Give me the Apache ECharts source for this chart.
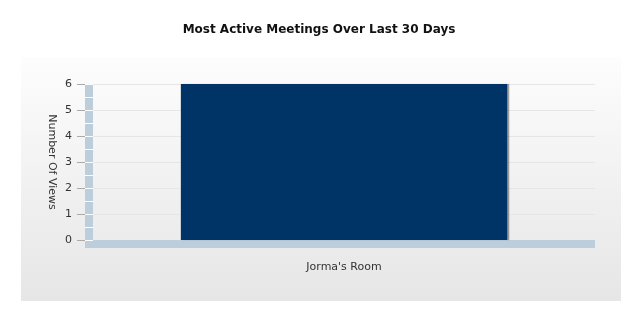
<!DOCTYPE html>
<html><head><meta charset="utf-8">
<script src="https://cdn.jsdelivr.net/npm/echarts@6/dist/echarts.min.js"></script>
<style>html,body{margin:0;padding:0;background:#fff}#c{width:638px;height:312px}</style>
</head><body><div id="c"></div>
<script>
const categories = ["Jorma's Room"];
const views = [6];
const yTicks = [0, 1, 2, 3, 4, 5, 6];

const chart = echarts.init(document.getElementById('c'), null, {renderer: 'canvas'});
const yMin = yTicks[0], yMax = yTicks[yTicks.length - 1];
chart.setOption({
  animation: false,
  backgroundColor: '#ffffff',
  title: {
    text: 'Most Active Meetings Over Last 30 Days',
    left: 'center', top: 19,
    textStyle: {fontFamily: 'DejaVu Sans', fontSize: 12, fontWeight: 'bold', color: '#111'}
  },
  graphic: [{
    type: 'rect', z: -10, silent: true,
    shape: {x: 21, y: 57, width: 600, height: 244},
    style: {fill: new echarts.graphic.LinearGradient(0, 0, 0, 1, [
      {offset: 0, color: '#fdfdfd'}, {offset: 1, color: '#e6e6e6'}])}
  }],
  grid: {left: 93, right: 43, top: 84, bottom: 72},
  xAxis: {
    type: 'category', data: categories,
    offset: 4,
    axisLine: {show: true, onZero: false, symbol: ['rect', 'none'], symbolSize: [8, 8], symbolOffset: [-4, 0],
      lineStyle: {color: '#bccddb', width: 8, cap: 'butt'}},
    axisTick: {show: false},
    axisLabel: {margin: 18, fontFamily: 'DejaVu Sans', fontSize: 11, color: '#333'}
  },
  yAxis: [{
    type: 'value', position: 'left', min: yMin, max: yMax, interval: 1, offset: 8,
    name: 'Number Of Views', nameLocation: 'middle', nameRotate: -90, nameGap: 28, nameMoveOverlap: false,
    nameTextStyle: {fontFamily: 'DejaVu Sans', fontSize: 11, color: '#333'},
    axisLine: {show: false},
    axisTick: {show: true, length: 8, lineStyle: {color: '#aaaaaa'}},
    axisLabel: {margin: 13, fontFamily: 'DejaVu Sans', fontSize: 11, color: '#333'},
    splitLine: {show: false}
  }, {
    type: 'value', position: 'left', min: yMin, max: yMax, interval: 1, offset: 4,
    axisLine: {show: true, lineStyle: {color: '#bccddb', width: 8, cap: 'butt'}},
    axisTick: {show: false}, axisLabel: {show: false},
    splitLine: {show: true, lineStyle: {color: '#e6e6e6'}}
  }, {
    type: 'value', position: 'left', min: yMin, max: yMax, interval: 0.5, offset: 8, z: 5,
    axisLine: {show: false},
    axisTick: {show: true, inside: true, length: 8, lineStyle: {color: '#ffffff', width: 1}},
    axisLabel: {show: false}, splitLine: {show: false}
  }],
  series: [{
    type: 'bar', data: views, barWidth: '65%', yAxisIndex: 0,
    itemStyle: {color: '#003366', shadowColor: 'rgba(0,0,0,0.4)', shadowBlur: 1, shadowOffsetX: 2, shadowOffsetY: 0}
  }]
});
</script></body></html>
